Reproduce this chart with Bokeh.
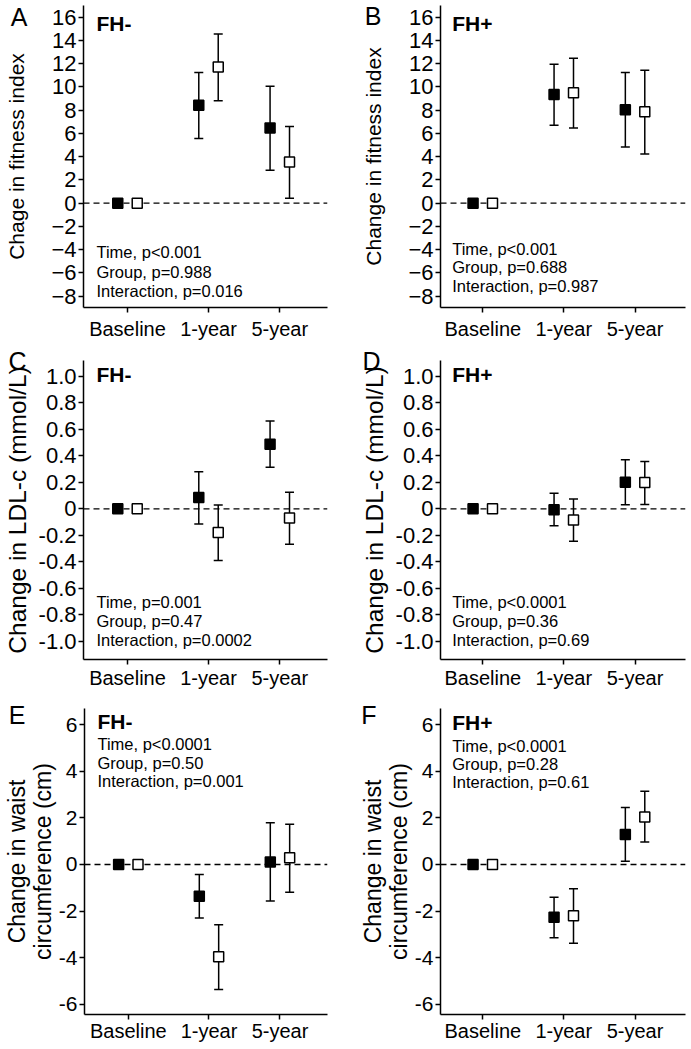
from bokeh.plotting import figure
from bokeh.layouts import column, row
from bokeh.models import (ColumnDataSource, Whisker, TeeHead, Span, Label, FixedTicker,
                          Range1d, LinearAxis)
from bokeh.embed import file_html
from bokeh.resources import INLINE

# ---------------- data ----------------
categories = ["Baseline", "1-year", "5-year"]

# A: fitness index, FH-
fit_neg_filled = [0.0, 8.43, 6.46]
fit_neg_filled_lo = [0.0, 5.57, 2.83]
fit_neg_filled_hi = [0.0, 11.23, 10.06]
fit_neg_open = [0.0, 11.71, 3.54]
fit_neg_open_lo = [0.0, 8.80, 0.43]
fit_neg_open_hi = [0.0, 14.54, 6.60]

# B: fitness index, FH+
fit_pos_filled = [0.0, 9.34, 8.03]
fit_pos_filled_lo = [0.0, 6.71, 4.83]
fit_pos_filled_hi = [0.0, 11.94, 11.23]
fit_pos_open = [0.0, 9.49, 7.86]
fit_pos_open_lo = [0.0, 6.46, 4.23]
fit_pos_open_hi = [0.0, 12.46, 11.43]

# C: LDL-c, FH-
ldl_neg_filled = [0.0, 0.085, 0.488]
ldl_neg_filled_lo = [0.0, -0.115, 0.313]
ldl_neg_filled_hi = [0.0, 0.280, 0.663]
ldl_neg_open = [0.0, -0.178, -0.070]
ldl_neg_open_lo = [0.0, -0.390, -0.268]
ldl_neg_open_hi = [0.0, 0.028, 0.125]

# D: LDL-c, FH+
ldl_pos_filled = [0.0, -0.008, 0.200]
ldl_pos_filled_lo = [0.0, -0.128, 0.030]
ldl_pos_filled_hi = [0.0, 0.118, 0.370]
ldl_pos_open = [0.0, -0.085, 0.198]
ldl_pos_open_lo = [0.0, -0.245, 0.033]
ldl_pos_open_hi = [0.0, 0.075, 0.358]

# E: waist circumference, FH-
waist_neg_filled = [0.0, -1.36, 0.11]
waist_neg_filled_lo = [0.0, -2.29, -1.57]
waist_neg_filled_hi = [0.0, -0.43, 1.79]
waist_neg_open = [0.0, -3.95, 0.29]
waist_neg_open_lo = [0.0, -5.36, -1.19]
waist_neg_open_hi = [0.0, -2.58, 1.73]

# F: waist circumference, FH+
waist_pos_filled = [0.0, -2.26, 1.29]
waist_pos_filled_lo = [0.0, -3.14, 0.14]
waist_pos_filled_hi = [0.0, -1.40, 2.44]
waist_pos_open = [0.0, -2.20, 2.04]
waist_pos_open_lo = [0.0, -3.38, 0.96]
waist_pos_open_hi = [0.0, -1.04, 3.14]

fit_ticks = [-8, -6, -4, -2, 0, 2, 4, 6, 8, 10, 12, 14, 16]
fit_tick_labels = ["\u22128", "\u22126", "\u22124", "\u22122", "0", "2", "4", "6", "8", "10", "12", "14", "16"]
ldl_ticks = [-1, -0.8, -0.6, -0.4, -0.2, 0, 0.2, 0.4, 0.6, 0.8, 1]
ldl_tick_labels = ["-1.0", "-0.8", "-0.6", "-0.4", "-0.2", "0", "0.2", "0.4", "0.6", "0.8", "1.0"]
waist_ticks = [-6, -4, -2, 0, 2, 4, 6]
waist_tick_labels = ["-6", "-4", "-2", "0", "2", "4", "6"]

stats_A = ["Time, p<0.001", "Group, p=0.988", "Interaction, p=0.016"]
stats_B = ["Time, p<0.001", "Group, p=0.688", "Interaction, p=0.987"]
stats_C = ["Time, p=0.001", "Group, p=0.47", "Interaction, p=0.0002"]
stats_D = ["Time, p<0.0001", "Group, p=0.36", "Interaction, p=0.69"]
stats_E = ["Time, p<0.0001", "Group, p=0.50", "Interaction, p=0.001"]
stats_F = ["Time, p<0.0001", "Group, p=0.28", "Interaction, p=0.61"]

# ---------------- layout / style ----------------
FONT = "Liberation Sans"
CAT_X = [0, 1, 1.88]
DX = 0.12

LEFT = dict(width=345, min_border_left=83, min_border_right=18, xr=(-0.5432, 2.469))
RIGHT = dict(width=344, min_border_left=95, min_border_right=4, xr=(-0.522, 2.5027))
ROW1 = dict(height=342, min_border_top=5, min_border_bottom=35, standoff=5)
ROW2 = dict(height=349, min_border_top=18, min_border_bottom=30, standoff=2)
ROW3 = dict(height=356, min_border_top=17, min_border_bottom=33, standoff=0)


def panel(col, rw, yr, ticks, tick_labels, tick_size, filled, filled_lo, filled_hi,
          opn, opn_lo, opn_hi, letter, letter_y, letter_standoff,
          ytitle, title_size, title_standoff, group, group_pos, stats, stats_x, stats_y):
    p = figure(width=col["width"], height=rw["height"],
               x_range=Range1d(*col["xr"]), y_range=Range1d(*yr),
               output_backend="svg", toolbar_location=None,
               min_border_left=col["min_border_left"], min_border_right=col["min_border_right"],
               min_border_top=rw["min_border_top"], min_border_bottom=rw["min_border_bottom"])
    p.outline_line_color = None
    p.xgrid.visible = False
    p.ygrid.visible = False
    p.background_fill_color = "white"
    p.border_fill_color = "white"

    xa = p.xaxis[0]
    ya = p.yaxis[0]
    xa.ticker = FixedTicker(ticks=CAT_X)
    xa.major_label_overrides = {x: c for x, c in zip(CAT_X, categories)}
    ya.ticker = FixedTicker(ticks=ticks)
    ya.major_label_overrides = {t: l for t, l in zip(ticks, tick_labels)}
    for ax in (xa, ya):
        ax.axis_line_color = "black"
        ax.axis_line_width = 1.5
        ax.major_tick_line_color = "black"
        ax.major_tick_line_width = 1.5
        ax.major_tick_in = 0
        ax.major_tick_out = 5
        ax.minor_tick_line_color = None
        ax.major_label_text_font = FONT
        ax.major_label_text_color = "black"
    xa.major_label_text_font_size = "20px"
    ya.major_label_text_font_size = tick_size
    xa.major_label_standoff = rw["standoff"]
    ya.major_label_standoff = 2

    ya.axis_label = ytitle
    ya.axis_label_text_font = FONT
    ya.axis_label_text_font_size = title_size
    ya.axis_label_text_font_style = "normal"
    ya.axis_label_text_color = "black"
    ya.axis_label_standoff = title_standoff
    ya.axis_label_text_line_height = 1.0

    # panel letter, drawn as the only label of an outer, line-less axis
    la = LinearAxis(ticker=FixedTicker(ticks=[letter_y]),
                    major_label_overrides={letter_y: letter},
                    axis_line_color=None, major_tick_line_color=None,
                    minor_tick_line_color=None, major_tick_in=0, major_tick_out=0,
                    major_label_standoff=letter_standoff, major_label_text_font=FONT,
                    major_label_text_font_size="25px", major_label_text_color="black")
    p.add_layout(la, "left")

    zero = Span(location=0, dimension="width", line_color="black", line_width=1.3,
                line_dash="6 4", level="underlay")
    p.add_layout(zero)

    xf = [x - DX for x in CAT_X]
    xo = [x + DX for x in CAT_X]
    sf = ColumnDataSource(dict(x=xf, y=filled, lo=filled_lo, hi=filled_hi))
    so = ColumnDataSource(dict(x=xo, y=opn, lo=opn_lo, hi=opn_hi))
    for src in (sf, so):
        w = Whisker(base="x", lower="lo", upper="hi", source=src, line_width=1.5, line_color="black",
                    upper_head=TeeHead(size=9, line_width=1.5, line_color="black"),
                    lower_head=TeeHead(size=9, line_width=1.5, line_color="black"),
                    level="underlay")
        p.add_layout(w)
    p.scatter("x", "y", source=sf, marker="square", size=10, fill_color="black",
              line_color="black", line_width=1.5)
    p.scatter("x", "y", source=so, marker="square", size=10, fill_color="white",
              line_color="black", line_width=1.5)

    p.add_layout(Label(x=group_pos[0], y=group_pos[1], text=group, text_font=FONT,
                       text_font_size="21px", text_font_style="bold", text_align="left",
                       text_baseline="middle", text_color="black"))
    for s, yy in zip(stats, stats_y):
        p.add_layout(Label(x=stats_x, y=yy, text=s, text_font=FONT, text_font_size="16.5px",
                           text_align="left", text_baseline="middle", text_color="black"))
    return p


pA = panel(LEFT, ROW1, (-8.97, 17.0), fit_ticks, fit_tick_labels, "22px",
           fit_neg_filled, fit_neg_filled_lo, fit_neg_filled_hi,
           fit_neg_open, fit_neg_open_lo, fit_neg_open_hi,
           "A", 15.99, -25, "Chage in fitness index", "21px", 20,
           "FH-", (-0.383, 15.42), stats_A, -0.383, [-4.21, -5.93, -7.51])
pB = panel(RIGHT, ROW1, (-8.97, 17.0), fit_ticks, fit_tick_labels, "22px",
           fit_pos_filled, fit_pos_filled_lo, fit_pos_filled_hi,
           fit_pos_open, fit_pos_open_lo, fit_pos_open_hi,
           "B", 16.07, -22, "Change in fitness index", "21px", 20,
           "FH+", (-0.378, 15.42), stats_B, -0.378, [-3.92, -5.50, -7.16])
pC = panel(LEFT, ROW2, (-1.138, 1.12), ldl_ticks, ldl_tick_labels, "22px",
           ldl_neg_filled, ldl_neg_filled_lo, ldl_neg_filled_hi,
           ldl_neg_open, ldl_neg_open_lo, ldl_neg_open_hi,
           "C", 1.117, -26, "Change in LDL-c (mmol/L)", "24.5px", 5,
           "FH-", (-0.383, 1.015), stats_C, -0.383, [-0.705, -0.851, -0.993])
pD = panel(RIGHT, ROW2, (-1.138, 1.12), ldl_ticks, ldl_tick_labels, "22px",
           ldl_pos_filled, ldl_pos_filled_lo, ldl_pos_filled_hi,
           ldl_pos_open, ldl_pos_open_lo, ldl_pos_open_hi,
           "D", 1.117, -23, "Change in LDL-c (mmol/L)", "24.5px", 5,
           "FH+", (-0.378, 1.015), stats_D, -0.378, [-0.705, -0.844, -0.988])
pE = panel(LEFT, ROW3, (-6.43, 6.687), waist_ticks, waist_tick_labels, "21px",
           waist_neg_filled, waist_neg_filled_lo, waist_neg_filled_hi,
           waist_neg_open, waist_neg_open_lo, waist_neg_open_hi,
           "E", 6.39, -25, "Change in waist\ncircumference (cm)", "23px", 0,
           "FH-", (-0.383, 6.14), stats_E, -0.383, [5.17, 4.36, 3.57])
pF = panel(RIGHT, ROW3, (-6.43, 6.687), waist_ticks, waist_tick_labels, "21px",
           waist_pos_filled, waist_pos_filled_lo, waist_pos_filled_hi,
           waist_pos_open, waist_pos_open_lo, waist_pos_open_hi,
           "F", 6.39, -20, "Change in waist\ncircumference (cm)", "23px", 0,
           "FH+", (-0.378, 6.10), stats_F, -0.378, [5.09, 4.32, 3.53])

layout = column(row(pA, pB), row(pC, pD), row(pE, pF))
open("out.html", "w").write(file_html(layout, INLINE))
